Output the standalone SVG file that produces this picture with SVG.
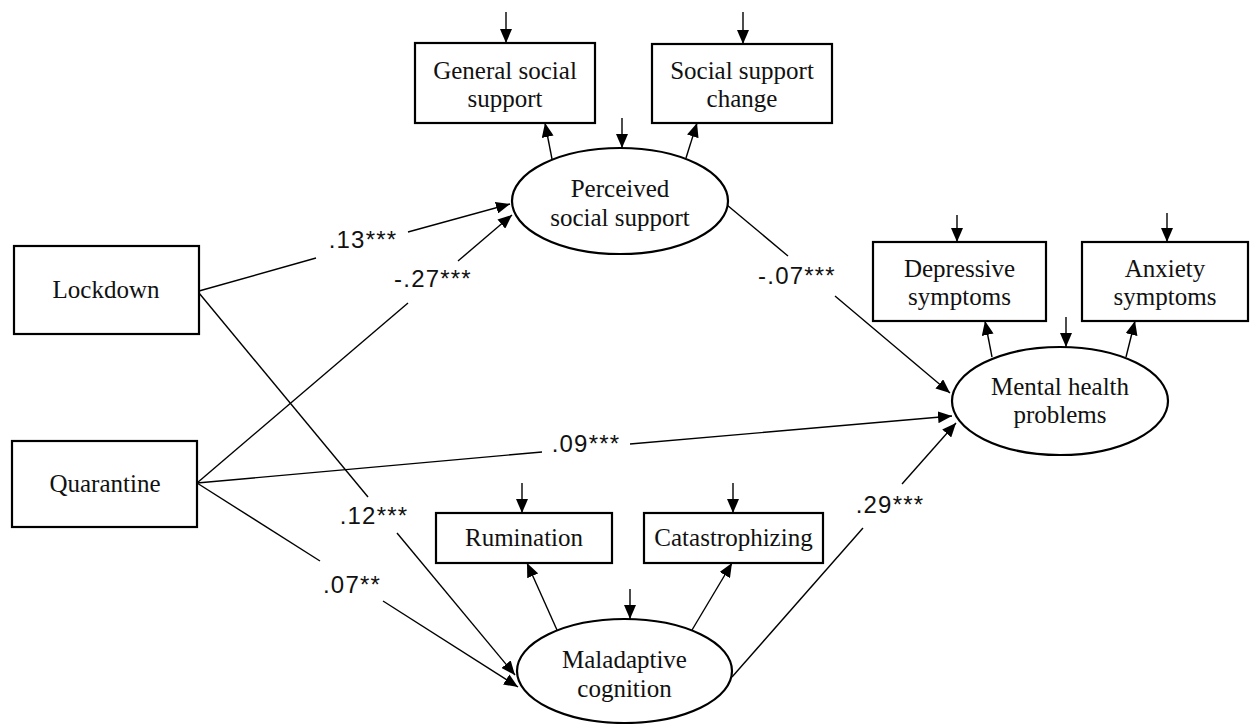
<svg xmlns="http://www.w3.org/2000/svg" width="1252" height="724" viewBox="0 0 1252 724">
<style>
.box{fill:#fff;stroke:#000;stroke-width:2.2}
.ell{fill:#fff;stroke:#000;stroke-width:2.2}
.t{font-family:"Liberation Serif","Times New Roman",serif;font-size:25px;fill:#111;text-anchor:middle}
.lbl{font-family:"Liberation Sans",Arial,sans-serif;font-size:24px;fill:#111;text-anchor:middle;letter-spacing:1.2px}
.c{stroke:#000;stroke-width:1.4;fill:none}
.a{stroke:#000;stroke-width:1.4;fill:none;marker-end:url(#ah)}
</style>
<defs>
<marker id="ah" markerUnits="userSpaceOnUse" markerWidth="15" markerHeight="12" refX="14" refY="6" orient="auto">
<path d="M0,0 L14,6 L0,12 z" fill="#000"/>
</marker>
</defs>
<rect width="1252" height="724" fill="#fff"/>
<g id="connectors">
<line class="c" x1="199" y1="291" x2="316" y2="258"/>
<line class="a" x1="408" y1="232" x2="510" y2="204"/>
<line class="c" x1="197" y1="483" x2="408" y2="303"/>
<line class="a" x1="458" y1="261" x2="512" y2="215"/>
<line class="c" x1="199" y1="293" x2="368" y2="497"/>
<line class="a" x1="397" y1="533" x2="515" y2="675"/>
<line class="c" x1="197" y1="483" x2="320" y2="561"/>
<line class="a" x1="383" y1="601" x2="518" y2="687"/>
<line class="c" x1="197" y1="483" x2="542" y2="452"/>
<line class="a" x1="630" y1="444" x2="952" y2="416"/>
<line class="c" x1="727" y1="205" x2="788" y2="256"/>
<line class="a" x1="835" y1="296" x2="950" y2="393"/>
<line class="c" x1="732" y1="677" x2="863" y2="528"/>
<line class="a" x1="902" y1="484" x2="956" y2="423"/>
<line class="a" x1="552" y1="159" x2="545" y2="123"/>
<line class="a" x1="686" y1="158" x2="697" y2="123"/>
<line class="a" x1="992" y1="357" x2="985" y2="321"/>
<line class="a" x1="1126" y1="357" x2="1135" y2="321"/>
<line class="a" x1="557" y1="630" x2="527" y2="563"/>
<line class="a" x1="692" y1="630" x2="732" y2="563"/>
<line class="a" x1="506" y1="12" x2="506" y2="43"/>
<line class="a" x1="743" y1="12" x2="743" y2="44"/>
<line class="a" x1="622" y1="118" x2="622" y2="148"/>
<line class="a" x1="957" y1="215" x2="957" y2="242"/>
<line class="a" x1="1167" y1="213" x2="1167" y2="242"/>
<line class="a" x1="1066" y1="317" x2="1066" y2="347"/>
<line class="a" x1="522" y1="483" x2="522" y2="513"/>
<line class="a" x1="733" y1="483" x2="733" y2="513"/>
<line class="a" x1="630" y1="589" x2="630" y2="619"/>
<text class="lbl" x="363" y="248">.13***</text>
<text class="lbl" x="433" y="287">-.27***</text>
<text class="lbl" x="797" y="284">-.07***</text>
<text class="lbl" x="586" y="452">.09***</text>
<text class="lbl" x="374" y="524">.12***</text>
<text class="lbl" x="352" y="593">.07**</text>
<text class="lbl" x="890" y="513">.29***</text>
</g>
<g id="lockdown">
<rect class="box" x="14" y="246" width="185" height="88"/>
<text class="t" x="106" y="298">Lockdown</text>
</g>
<g id="quarantine">
<rect class="box" x="12" y="441" width="185" height="86"/>
<text class="t" x="105" y="492">Quarantine</text>
</g>
<g id="general-social-support">
<rect class="box" x="415" y="43" width="180" height="80"/>
<text class="t" x="505" y="79">General social</text>
<text class="t" x="505" y="107">support</text>
</g>
<g id="social-support-change">
<rect class="box" x="652" y="44" width="180" height="79"/>
<text class="t" x="742" y="79">Social support</text>
<text class="t" x="742" y="107">change</text>
</g>
<g id="perceived-social-support">
<ellipse class="ell" cx="620" cy="201" rx="108" ry="53"/>
<text class="t" x="620" y="197">Perceived</text>
<text class="t" x="620" y="226">social support</text>
</g>
<g id="depressive-symptoms">
<rect class="box" x="873" y="242" width="173" height="79"/>
<text class="t" x="959.5" y="277">Depressive</text>
<text class="t" x="959.5" y="305">symptoms</text>
</g>
<g id="anxiety-symptoms">
<rect class="box" x="1082" y="242" width="166" height="79"/>
<text class="t" x="1165" y="277">Anxiety</text>
<text class="t" x="1165" y="305">symptoms</text>
</g>
<g id="mental-health-problems">
<ellipse class="ell" cx="1060" cy="401" rx="108" ry="54"/>
<text class="t" x="1060" y="395">Mental health</text>
<text class="t" x="1060" y="423">problems</text>
</g>
<g id="rumination">
<rect class="box" x="436" y="513" width="176" height="50"/>
<text class="t" x="524" y="546">Rumination</text>
</g>
<g id="catastrophizing">
<rect class="box" x="644" y="513" width="179" height="50"/>
<text class="t" x="733.5" y="546">Catastrophizing</text>
</g>
<g id="maladaptive-cognition">
<ellipse class="ell" cx="624.5" cy="671" rx="107.5" ry="52"/>
<text class="t" x="624.5" y="668">Maladaptive</text>
<text class="t" x="624.5" y="697">cognition</text>
</g>
</svg>
